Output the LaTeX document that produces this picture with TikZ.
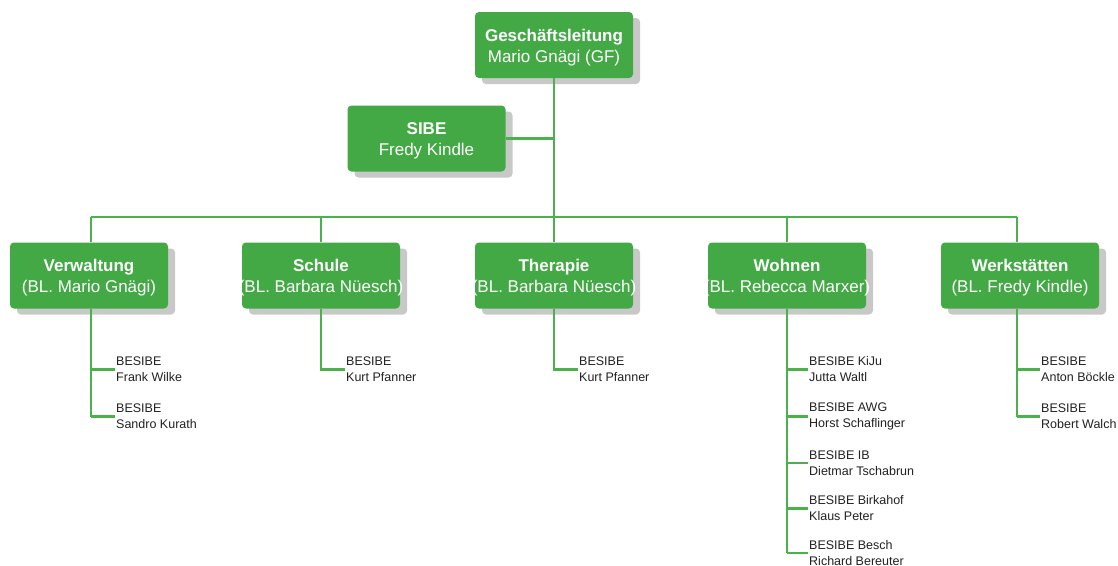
\documentclass[tikz,border=0pt]{standalone}
\usepackage{fontspec}
\setmainfont{Liberation Sans}
\usetikzlibrary{shadows}
\definecolor{boxgreen}{RGB}{67,169,69}
\definecolor{linegreen}{RGB}{76,176,76}
\definecolor{shadowgray}{RGB}{200,200,200}
\definecolor{leaftext}{RGB}{34,34,34}
\begin{document}
\begin{tikzpicture}[x=1pt,y=-1pt,
  orgbox/.style={rectangle, rounded corners=4pt, fill=boxgreen,
    minimum width=158pt, minimum height=66pt, inner sep=0pt,
    general shadow={shadow xshift=7pt, shadow yshift=-6pt, fill=shadowgray}},
  boxtext/.style={align=center, text=white, inner sep=0pt,
    font=\fontsize{17}{21}\selectfont},
  leaf/.style={anchor=west, align=left, inner xsep=1.5pt, inner ysep=0pt,
    text=leaftext, font=\fontsize{12.5}{16}\selectfont},
  conn/.style={draw=linegreen, line width=2.2pt}]
\clip (0,0) rectangle (1118,565);
\fill[white] (0,0) rectangle (1118,565);

\node[orgbox] (gl) at (554,45) {};
\node[orgbox] (sibe) at (426.5,138.5) {};
\node[orgbox] (verw) at (89,275.5) {};
\node[orgbox] (schule) at (321,275.5) {};
\node[orgbox] (ther) at (554,275.5) {};
\node[orgbox] (wohn) at (787,275.5) {};
\node[orgbox] (werk) at (1020,275.5) {};

\node[boxtext] (glt) at ([yshift=-2.5pt]gl.center) {\textbf{Geschäftsleitung}\\Mario Gnägi (GF)};
\node[boxtext] (sibet) at ([yshift=-2.5pt]sibe.center) {\textbf{SIBE}\\Fredy Kindle};
\node[boxtext] (verwt) at ([yshift=-2.5pt]verw.center) {\textbf{Verwaltung}\\(BL. Mario Gnägi)};
\node[boxtext] (schulet) at ([yshift=-2.5pt]schule.center) {\textbf{Schule}\\(BL. Barbara Nüesch)};
\node[boxtext] (thert) at ([yshift=-2.5pt]ther.center) {\textbf{Therapie}\\(BL. Barbara Nüesch)};
\node[boxtext] (wohnt) at ([yshift=-2.5pt]wohn.center) {\textbf{Wohnen}\\(BL. Rebecca Marxer)};
\node[boxtext] (werkt) at ([yshift=-2.5pt]werk.center) {\textbf{Werkstätten}\\(BL. Fredy Kindle)};

\coordinate (busl) at (91,217);
\coordinate (busr) at (1017,217);
\coordinate (lv) at (91,309);
\coordinate (lw) at (1017,309);

% leaves
\node[leaf] (v1) at (114.5,369.5) {BESIBE\\Frank Wilke};
\node[leaf] (v2) at (114.5,416.5) {BESIBE\\Sandro Kurath};
\node[leaf] (s1) at (344.5,369.5) {BESIBE\\Kurt Pfanner};
\node[leaf] (t1) at (577.5,369.5) {BESIBE\\Kurt Pfanner};
\node[leaf] (w1) at (807.5,369.5) {BESIBE KiJu\\Jutta Waltl};
\node[leaf] (w2) at (807.5,416.5) {BESIBE AWG\\Horst Schaflinger};
\node[leaf] (w3) at (807.5,463) {BESIBE IB\\Dietmar Tschabrun};
\node[leaf] (w4) at (807.5,508.5) {BESIBE Birkahof\\Klaus Peter};
\node[leaf] (w5) at (807.5,553) {BESIBE Besch\\Richard Bereuter};
\node[leaf] (k1) at (1039.5,369.5) {BESIBE\\Anton Böckle};
\node[leaf] (k2) at (1039.5,416.5) {BESIBE\\Robert Walch};

% connectors
\draw[conn] (gl.south) -- (gl.south |- busl);
\draw[conn] (sibe.east) -- (sibe.east -| gl.south);
\draw[conn] (busl) -- (busr);
\draw[conn] (busl) -- (busl |- verw.north);
\draw[conn] (schule.north) -- (schule.north |- busl);
\draw[conn] (ther.north) -- (ther.north |- busl);
\draw[conn] (wohn.north) -- (wohn.north |- busl);
\draw[conn] (busr) -- (busr |- werk.north);

\draw[conn] (lv) -- (lv |- v2.west);
\draw[conn] (v1.west -| lv) -- (v1.west);
\draw[conn] (v2.west -| lv) -- (v2.west);

\draw[conn] (schule.south) -- (schule.south |- s1.west) -- (s1.west);
\draw[conn] (ther.south) -- (ther.south |- t1.west) -- (t1.west);

\draw[conn] (wohn.south) -- (wohn.south |- w5.west);
\foreach \n in {w1,w2,w3,w4,w5}
  \draw[conn] (\n.west -| wohn.south) -- (\n.west);

\draw[conn] (lw) -- (lw |- k2.west);
\draw[conn] (k1.west -| lw) -- (k1.west);
\draw[conn] (k2.west -| lw) -- (k2.west);
\end{tikzpicture}
\end{document}
